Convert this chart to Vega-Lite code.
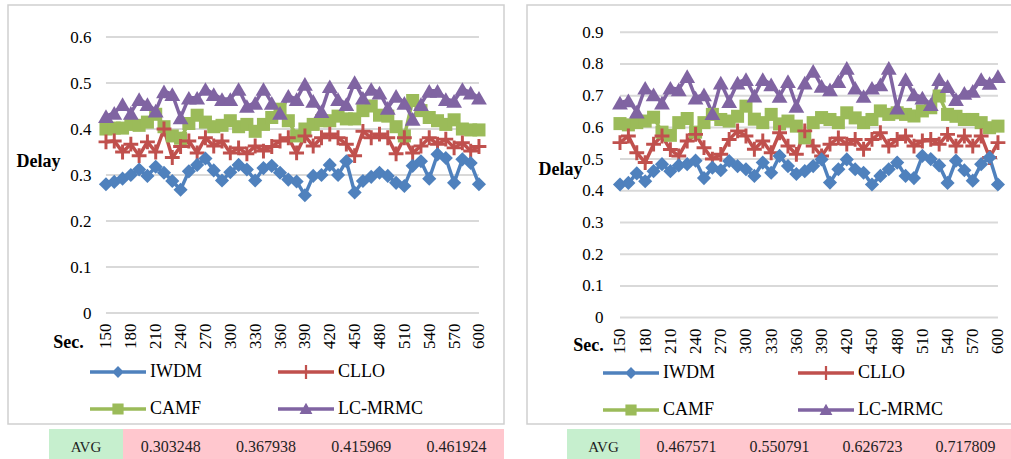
{
"$schema": "https://vega.github.io/schema/vega-lite/v6.json",
"background": "white",
"padding": {"left": 7, "top": 4, "right": 0, "bottom": 0},
"config": {"font": "Liberation Serif", "axis": {"labelOverlap": false}},
"datasets": {
"left": [
{"t":150,"IWDM":0.280,"CLLO":0.372,"CAMF":0.400,"LC-MRMC":0.428},
{"t":160,"IWDM":0.285,"CLLO":0.374,"CAMF":0.402,"LC-MRMC":0.435},
{"t":170,"IWDM":0.292,"CLLO":0.350,"CAMF":0.402,"LC-MRMC":0.454},
{"t":180,"IWDM":0.300,"CLLO":0.367,"CAMF":0.410,"LC-MRMC":0.435},
{"t":190,"IWDM":0.312,"CLLO":0.342,"CAMF":0.408,"LC-MRMC":0.465},
{"t":200,"IWDM":0.298,"CLLO":0.372,"CAMF":0.415,"LC-MRMC":0.454},
{"t":210,"IWDM":0.318,"CLLO":0.350,"CAMF":0.432,"LC-MRMC":0.440},
{"t":220,"IWDM":0.305,"CLLO":0.400,"CAMF":0.405,"LC-MRMC":0.482},
{"t":230,"IWDM":0.287,"CLLO":0.338,"CAMF":0.385,"LC-MRMC":0.476},
{"t":240,"IWDM":0.268,"CLLO":0.362,"CAMF":0.380,"LC-MRMC":0.425},
{"t":250,"IWDM":0.308,"CLLO":0.374,"CAMF":0.412,"LC-MRMC":0.468},
{"t":260,"IWDM":0.322,"CLLO":0.348,"CAMF":0.430,"LC-MRMC":0.468},
{"t":270,"IWDM":0.336,"CLLO":0.381,"CAMF":0.415,"LC-MRMC":0.487},
{"t":280,"IWDM":0.310,"CLLO":0.363,"CAMF":0.405,"LC-MRMC":0.476},
{"t":290,"IWDM":0.288,"CLLO":0.374,"CAMF":0.408,"LC-MRMC":0.465},
{"t":300,"IWDM":0.306,"CLLO":0.348,"CAMF":0.418,"LC-MRMC":0.465},
{"t":310,"IWDM":0.322,"CLLO":0.359,"CAMF":0.405,"LC-MRMC":0.487},
{"t":320,"IWDM":0.312,"CLLO":0.346,"CAMF":0.410,"LC-MRMC":0.450},
{"t":330,"IWDM":0.288,"CLLO":0.363,"CAMF":0.395,"LC-MRMC":0.457},
{"t":340,"IWDM":0.315,"CLLO":0.352,"CAMF":0.410,"LC-MRMC":0.487},
{"t":350,"IWDM":0.320,"CLLO":0.362,"CAMF":0.425,"LC-MRMC":0.457},
{"t":360,"IWDM":0.305,"CLLO":0.374,"CAMF":0.443,"LC-MRMC":0.435},
{"t":370,"IWDM":0.290,"CLLO":0.381,"CAMF":0.418,"LC-MRMC":0.472},
{"t":380,"IWDM":0.286,"CLLO":0.348,"CAMF":0.385,"LC-MRMC":0.465},
{"t":390,"IWDM":0.256,"CLLO":0.385,"CAMF":0.400,"LC-MRMC":0.498},
{"t":400,"IWDM":0.298,"CLLO":0.363,"CAMF":0.410,"LC-MRMC":0.461},
{"t":410,"IWDM":0.300,"CLLO":0.381,"CAMF":0.418,"LC-MRMC":0.439},
{"t":420,"IWDM":0.322,"CLLO":0.389,"CAMF":0.418,"LC-MRMC":0.493},
{"t":430,"IWDM":0.300,"CLLO":0.381,"CAMF":0.428,"LC-MRMC":0.465},
{"t":440,"IWDM":0.330,"CLLO":0.367,"CAMF":0.422,"LC-MRMC":0.454},
{"t":450,"IWDM":0.262,"CLLO":0.342,"CAMF":0.422,"LC-MRMC":0.502},
{"t":460,"IWDM":0.287,"CLLO":0.395,"CAMF":0.440,"LC-MRMC":0.468},
{"t":470,"IWDM":0.296,"CLLO":0.381,"CAMF":0.450,"LC-MRMC":0.487},
{"t":480,"IWDM":0.305,"CLLO":0.389,"CAMF":0.430,"LC-MRMC":0.479},
{"t":490,"IWDM":0.298,"CLLO":0.381,"CAMF":0.428,"LC-MRMC":0.446},
{"t":500,"IWDM":0.283,"CLLO":0.346,"CAMF":0.405,"LC-MRMC":0.472},
{"t":510,"IWDM":0.276,"CLLO":0.381,"CAMF":0.385,"LC-MRMC":0.457},
{"t":520,"IWDM":0.320,"CLLO":0.348,"CAMF":0.462,"LC-MRMC":0.422},
{"t":530,"IWDM":0.330,"CLLO":0.363,"CAMF":0.440,"LC-MRMC":0.454},
{"t":540,"IWDM":0.292,"CLLO":0.381,"CAMF":0.425,"LC-MRMC":0.483},
{"t":550,"IWDM":0.345,"CLLO":0.367,"CAMF":0.418,"LC-MRMC":0.483},
{"t":560,"IWDM":0.337,"CLLO":0.378,"CAMF":0.410,"LC-MRMC":0.465},
{"t":570,"IWDM":0.283,"CLLO":0.359,"CAMF":0.420,"LC-MRMC":0.461},
{"t":580,"IWDM":0.334,"CLLO":0.370,"CAMF":0.400,"LC-MRMC":0.487},
{"t":590,"IWDM":0.326,"CLLO":0.352,"CAMF":0.398,"LC-MRMC":0.479},
{"t":600,"IWDM":0.280,"CLLO":0.362,"CAMF":0.398,"LC-MRMC":0.468}
],
"right": [
{"t":150,"IWDM":0.420,"CLLO":0.552,"CAMF":0.612,"LC-MRMC":0.678},
{"t":160,"IWDM":0.425,"CLLO":0.573,"CAMF":0.608,"LC-MRMC":0.685},
{"t":170,"IWDM":0.455,"CLLO":0.520,"CAMF":0.615,"LC-MRMC":0.650},
{"t":180,"IWDM":0.430,"CLLO":0.489,"CAMF":0.620,"LC-MRMC":0.725},
{"t":190,"IWDM":0.462,"CLLO":0.547,"CAMF":0.632,"LC-MRMC":0.704},
{"t":200,"IWDM":0.484,"CLLO":0.573,"CAMF":0.585,"LC-MRMC":0.678},
{"t":210,"IWDM":0.462,"CLLO":0.530,"CAMF":0.575,"LC-MRMC":0.725},
{"t":220,"IWDM":0.480,"CLLO":0.510,"CAMF":0.615,"LC-MRMC":0.720},
{"t":230,"IWDM":0.484,"CLLO":0.557,"CAMF":0.628,"LC-MRMC":0.762},
{"t":240,"IWDM":0.495,"CLLO":0.578,"CAMF":0.585,"LC-MRMC":0.694},
{"t":250,"IWDM":0.440,"CLLO":0.536,"CAMF":0.615,"LC-MRMC":0.704},
{"t":260,"IWDM":0.473,"CLLO":0.500,"CAMF":0.641,"LC-MRMC":0.645},
{"t":270,"IWDM":0.465,"CLLO":0.515,"CAMF":0.625,"LC-MRMC":0.741},
{"t":280,"IWDM":0.494,"CLLO":0.562,"CAMF":0.620,"LC-MRMC":0.683},
{"t":290,"IWDM":0.478,"CLLO":0.589,"CAMF":0.635,"LC-MRMC":0.741},
{"t":300,"IWDM":0.468,"CLLO":0.573,"CAMF":0.667,"LC-MRMC":0.752},
{"t":310,"IWDM":0.447,"CLLO":0.531,"CAMF":0.626,"LC-MRMC":0.700},
{"t":320,"IWDM":0.489,"CLLO":0.557,"CAMF":0.615,"LC-MRMC":0.752},
{"t":330,"IWDM":0.457,"CLLO":0.520,"CAMF":0.641,"LC-MRMC":0.736},
{"t":340,"IWDM":0.510,"CLLO":0.583,"CAMF":0.611,"LC-MRMC":0.699},
{"t":350,"IWDM":0.478,"CLLO":0.541,"CAMF":0.620,"LC-MRMC":0.746},
{"t":360,"IWDM":0.453,"CLLO":0.515,"CAMF":0.604,"LC-MRMC":0.668},
{"t":370,"IWDM":0.462,"CLLO":0.589,"CAMF":0.567,"LC-MRMC":0.741},
{"t":380,"IWDM":0.478,"CLLO":0.541,"CAMF":0.615,"LC-MRMC":0.778},
{"t":390,"IWDM":0.499,"CLLO":0.510,"CAMF":0.631,"LC-MRMC":0.731},
{"t":400,"IWDM":0.426,"CLLO":0.547,"CAMF":0.625,"LC-MRMC":0.720},
{"t":410,"IWDM":0.468,"CLLO":0.567,"CAMF":0.615,"LC-MRMC":0.746},
{"t":420,"IWDM":0.499,"CLLO":0.547,"CAMF":0.646,"LC-MRMC":0.788},
{"t":430,"IWDM":0.468,"CLLO":0.562,"CAMF":0.630,"LC-MRMC":0.725},
{"t":440,"IWDM":0.457,"CLLO":0.531,"CAMF":0.615,"LC-MRMC":0.699},
{"t":450,"IWDM":0.420,"CLLO":0.562,"CAMF":0.625,"LC-MRMC":0.725},
{"t":460,"IWDM":0.447,"CLLO":0.583,"CAMF":0.652,"LC-MRMC":0.736},
{"t":470,"IWDM":0.468,"CLLO":0.541,"CAMF":0.641,"LC-MRMC":0.788},
{"t":480,"IWDM":0.489,"CLLO":0.562,"CAMF":0.646,"LC-MRMC":0.662},
{"t":490,"IWDM":0.447,"CLLO":0.573,"CAMF":0.641,"LC-MRMC":0.752},
{"t":500,"IWDM":0.440,"CLLO":0.541,"CAMF":0.636,"LC-MRMC":0.704},
{"t":510,"IWDM":0.510,"CLLO":0.557,"CAMF":0.652,"LC-MRMC":0.694},
{"t":520,"IWDM":0.500,"CLLO":0.562,"CAMF":0.662,"LC-MRMC":0.673},
{"t":530,"IWDM":0.480,"CLLO":0.547,"CAMF":0.699,"LC-MRMC":0.752},
{"t":540,"IWDM":0.425,"CLLO":0.578,"CAMF":0.641,"LC-MRMC":0.730},
{"t":550,"IWDM":0.495,"CLLO":0.541,"CAMF":0.635,"LC-MRMC":0.689},
{"t":560,"IWDM":0.465,"CLLO":0.573,"CAMF":0.625,"LC-MRMC":0.709},
{"t":570,"IWDM":0.432,"CLLO":0.541,"CAMF":0.625,"LC-MRMC":0.715},
{"t":580,"IWDM":0.484,"CLLO":0.573,"CAMF":0.615,"LC-MRMC":0.752},
{"t":590,"IWDM":0.505,"CLLO":0.505,"CAMF":0.599,"LC-MRMC":0.740},
{"t":600,"IWDM":0.420,"CLLO":0.552,"CAMF":0.604,"LC-MRMC":0.762}
]
},
"vconcat": [
{
"resolve": {"scale": {"color": "independent", "shape": "independent"}, "legend": {"color": "independent", "shape": "independent"}},
"hconcat": [
{
"width": 496, "height": 419,
"view": {"stroke": "#d0d0d0", "strokeWidth": 1.5},
"layer": [
{
"data": {"values": [{"g":0},{"g":0.1},{"g":0.2},{"g":0.3},{"g":0.4},{"g":0.5},{"g":0.6}]},
"mark": {"type": "rule", "color": "#d9d9d9", "strokeWidth": 2},
"encoding": {
"y": {"field": "g", "type": "quantitative", "scale": {"domain": [-0.2413, 0.6696], "nice": false, "zero": false},
"axis": {"values": [0,0.1,0.2,0.3,0.4,0.5,0.6], "tickCount": 20, "format": ".1~f", "offset": -87, "labelPadding": 4, "ticks": false, "domain": false, "grid": false, "labelFont": "Liberation Serif", "labelFontSize": 17, "labelColor": "#000", "title": "Delay", "titleFont": "Liberation Serif", "titleFontSize": 18, "titleFontWeight": "bold", "titleColor": "#000", "titleAngle": 0, "titleX": -57, "titleY": 156, "titleAlign": "center", "titleBaseline": "middle"}},
"x": {"datum": 150, "type": "quantitative", "scale": {"domain": [31.8, 630.2], "nice": false, "zero": false},
"axis": {"values": [150,180,210,240,270,300,330,360,390,420,450,480,510,540,570,600], "tickCount": 40, "format": "d", "offset": -111, "labelPadding": 10, "labelAngle": -90, "ticks": false, "domain": false, "grid": false, "labelFont": "Liberation Serif", "labelFontSize": 17, "labelColor": "#000", "labelOverlap": false, "labelFlush": false, "title": "Sec.", "titleFont": "Liberation Serif", "titleFontSize": 18, "titleFontWeight": "bold", "titleColor": "#000", "titleAngle": 0, "titleX": 60, "titleY": 29, "titleAlign": "center", "titleBaseline": "middle"}},
"x2": {"datum": 600}
}
},
{
"data": {"name": "left"},
"transform": [{"fold": ["IWDM", "CLLO", "CAMF", "LC-MRMC"], "as": ["series", "v"]}, {"filter": "false"}],
"mark": {"type": "point", "filled": true, "opacity": 1},
"encoding": {
"x": {"field": "t", "type": "quantitative"},
"y": {"field": "v", "type": "quantitative"},
"color": {"field": "series", "type": "nominal",
"scale": {"domain": ["IWDM", "CLLO", "CAMF", "LC-MRMC"], "range": ["#4F81BD", "#C0504D", "#9BBB59", "#8064A2"]},
"legend": {"orient": "none", "legendX": 82, "legendY": 339, "columns": 2, "direction": "horizontal", "title": null, "labelFont": "Liberation Serif", "labelFontSize": 18, "labelColor": "#000", "symbolSize": 3136, "symbolStrokeWidth": 0, "symbolOpacity": 1, "labelOffset": 4, "columnPadding": 76, "rowPadding": -1, "padding": 0}},
"shape": {"field": "series", "type": "nominal",
"scale": {"domain": ["IWDM", "CLLO", "CAMF", "LC-MRMC"], "range": ["M-1,-0.06H-0.15L0,-0.21L0.15,-0.06H1V0.06H0.15L0,0.21L-0.15,0.06H-1Z", "M-1,-0.06H-0.04V-0.25H0.04V-0.06H1V0.06H0.04V0.25H-0.04V0.06H-1Z", "M-1,-0.06H-0.2V-0.2H0.2V-0.06H1V0.06H0.2V0.2H-0.2V0.06H-1Z", "M-1,-0.06H-0.09L0,-0.22L0.09,-0.06H1V0.06H0.165L0.23,0.18H-0.23L-0.165,0.06H-1Z"]},
"legend": {"orient": "none", "legendX": 82, "legendY": 339, "columns": 2, "direction": "horizontal", "title": null, "labelFont": "Liberation Serif", "labelFontSize": 18, "labelColor": "#000", "symbolSize": 3136, "symbolStrokeWidth": 0, "symbolOpacity": 1, "labelOffset": 4, "columnPadding": 76, "rowPadding": -1, "padding": 0}}
}
},
{
"data": {"name": "left"},
"transform": [{"fold": ["IWDM", "CLLO", "CAMF", "LC-MRMC"], "as": ["series", "v"]}],
"mark": {"type": "line", "strokeWidth": 3.5},
"encoding": {
"x": {"field": "t", "type": "quantitative"},
"y": {"field": "v", "type": "quantitative"},
"color": {"field": "series", "type": "nominal", "legend": null}
}
},
{
"data": {"name": "left"},
"transform": [{"fold": ["IWDM", "CLLO", "CAMF", "LC-MRMC"], "as": ["series", "v"]}],
"mark": {"type": "point", "filled": true, "opacity": 1},
"encoding": {
"x": {"field": "t", "type": "quantitative"},
"y": {"field": "v", "type": "quantitative"},
"color": {"field": "series", "type": "nominal", "legend": null},
"shape": {"condition": [{"test": "datum.series === 'IWDM'", "value": "diamond"}, {"test": "datum.series === 'CLLO'", "value": "M-1,-0.2H-0.2V-1H0.2V-0.2H1V0.2H0.2V1H-0.2V0.2H-1Z"}, {"test": "datum.series === 'CAMF'", "value": "square"}], "value": "triangle-up"},
"size": {"condition": [{"test": "datum.series === 'IWDM'", "value": 200}, {"test": "datum.series === 'CLLO'", "value": 220}, {"test": "datum.series === 'CAMF'", "value": 170}], "value": 250},
"order": {"field": "series", "type": "nominal"}
}
}
]
},
{
"width": 486, "height": 419,
"view": {"stroke": "#d0d0d0", "strokeWidth": 1.5},
"layer": [
{
"data": {"values": [{"g":0},{"g":0.1},{"g":0.2},{"g":0.3},{"g":0.4},{"g":0.5},{"g":0.6},{"g":0.7},{"g":0.8},{"g":0.9}]},
"mark": {"type": "rule", "color": "#d9d9d9", "strokeWidth": 2},
"encoding": {
"y": {"field": "g", "type": "quantitative", "scale": {"domain": [-0.3356, 0.9861], "nice": false, "zero": false},
"axis": {"values": [0,0.1,0.2,0.3,0.4,0.5,0.6,0.7,0.8,0.9], "tickCount": 20, "format": ".1~f", "offset": -80, "labelPadding": 4, "ticks": false, "domain": false, "grid": false, "labelFont": "Liberation Serif", "labelFontSize": 17, "labelColor": "#000", "title": "Delay", "titleFont": "Liberation Serif", "titleFontSize": 18, "titleFontWeight": "bold", "titleColor": "#000", "titleAngle": 0, "titleX": -47, "titleY": 164, "titleAlign": "center", "titleBaseline": "middle"}},
"x": {"datum": 150, "type": "quantitative", "scale": {"domain": [39.3, 617.9], "nice": false, "zero": false},
"axis": {"values": [150,180,210,240,270,300,330,360,390,420,450,480,510,540,570,600], "tickCount": 40, "format": "d", "offset": -106, "labelPadding": 10, "labelAngle": -90, "ticks": false, "domain": false, "grid": false, "labelFont": "Liberation Serif", "labelFontSize": 17, "labelColor": "#000", "labelOverlap": false, "labelFlush": false, "title": "Sec.", "titleFont": "Liberation Serif", "titleFontSize": 18, "titleFontWeight": "bold", "titleColor": "#000", "titleAngle": 0, "titleX": 61, "titleY": 27, "titleAlign": "center", "titleBaseline": "middle"}},
"x2": {"datum": 600}
}
},
{
"data": {"name": "right"},
"transform": [{"fold": ["IWDM", "CLLO", "CAMF", "LC-MRMC"], "as": ["series", "v"]}, {"filter": "false"}],
"mark": {"type": "point", "filled": true, "opacity": 1},
"encoding": {
"x": {"field": "t", "type": "quantitative"},
"y": {"field": "v", "type": "quantitative"},
"color": {"field": "series", "type": "nominal",
"scale": {"domain": ["IWDM", "CLLO", "CAMF", "LC-MRMC"], "range": ["#4F81BD", "#C0504D", "#9BBB59", "#8064A2"]},
"legend": {"orient": "none", "legendX": 76, "legendY": 340, "columns": 2, "direction": "horizontal", "title": null, "labelFont": "Liberation Serif", "labelFontSize": 18, "labelColor": "#000", "symbolSize": 3136, "symbolStrokeWidth": 0, "symbolOpacity": 1, "labelOffset": 4, "columnPadding": 83, "rowPadding": -1, "padding": 0}},
"shape": {"field": "series", "type": "nominal",
"scale": {"domain": ["IWDM", "CLLO", "CAMF", "LC-MRMC"], "range": ["M-1,-0.06H-0.15L0,-0.21L0.15,-0.06H1V0.06H0.15L0,0.21L-0.15,0.06H-1Z", "M-1,-0.06H-0.04V-0.25H0.04V-0.06H1V0.06H0.04V0.25H-0.04V0.06H-1Z", "M-1,-0.06H-0.2V-0.2H0.2V-0.06H1V0.06H0.2V0.2H-0.2V0.06H-1Z", "M-1,-0.06H-0.09L0,-0.22L0.09,-0.06H1V0.06H0.165L0.23,0.18H-0.23L-0.165,0.06H-1Z"]},
"legend": {"orient": "none", "legendX": 76, "legendY": 340, "columns": 2, "direction": "horizontal", "title": null, "labelFont": "Liberation Serif", "labelFontSize": 18, "labelColor": "#000", "symbolSize": 3136, "symbolStrokeWidth": 0, "symbolOpacity": 1, "labelOffset": 4, "columnPadding": 83, "rowPadding": -1, "padding": 0}}
}
},
{
"data": {"name": "right"},
"transform": [{"fold": ["IWDM", "CLLO", "CAMF", "LC-MRMC"], "as": ["series", "v"]}],
"mark": {"type": "line", "strokeWidth": 3.5},
"encoding": {
"x": {"field": "t", "type": "quantitative"},
"y": {"field": "v", "type": "quantitative"},
"color": {"field": "series", "type": "nominal", "legend": null}
}
},
{
"data": {"name": "right"},
"transform": [{"fold": ["IWDM", "CLLO", "CAMF", "LC-MRMC"], "as": ["series", "v"]}],
"mark": {"type": "point", "filled": true, "opacity": 1},
"encoding": {
"x": {"field": "t", "type": "quantitative"},
"y": {"field": "v", "type": "quantitative"},
"color": {"field": "series", "type": "nominal", "legend": null},
"shape": {"condition": [{"test": "datum.series === 'IWDM'", "value": "diamond"}, {"test": "datum.series === 'CLLO'", "value": "M-1,-0.2H-0.2V-1H0.2V-0.2H1V0.2H0.2V1H-0.2V0.2H-1Z"}, {"test": "datum.series === 'CAMF'", "value": "square"}], "value": "triangle-up"},
"size": {"condition": [{"test": "datum.series === 'IWDM'", "value": 200}, {"test": "datum.series === 'CLLO'", "value": 220}, {"test": "datum.series === 'CAMF'", "value": 170}], "value": 250},
"order": {"field": "series", "type": "nominal"}
}
}
]
}
],
"spacing": 21
},
{
"hconcat": [
{
"width": 115, "height": 32,
"view": {"stroke": null},
"data": {"values": [{"k": "AVG"}]},
"layer": [
{"mark": {"type": "rect", "color": "#c6efce"},
"encoding": {"x": {"field": "k", "type": "nominal", "scale": {"type": "band", "paddingInner": 0, "paddingOuter": 0.277, "align": 1}, "axis": null}}},
{"mark": {"type": "text", "font": "Liberation Serif", "fontSize": 15, "color": "#1f1f1f", "dy": 2},
"encoding": {"x": {"field": "k", "type": "nominal", "axis": null}, "text": {"field": "k"}}}
]
},
{
"width": 381, "height": 32,
"view": {"stroke": null, "fill": "#ffc7ce"},
"data": {"values": [{"k": "IWDM", "a": "0.303248"}, {"k": "CLLO", "a": "0.367938"}, {"k": "CAMF", "a": "0.415969"}, {"k": "LC-MRMC", "a": "0.461924"}]},
"mark": {"type": "text", "font": "Liberation Serif", "fontSize": 16, "color": "#1f1f1f", "dy": 2},
"encoding": {"x": {"field": "k", "type": "nominal", "sort": null, "scale": {"type": "band", "paddingInner": 0, "paddingOuter": 0}, "axis": null}, "text": {"field": "a"}}
},
{
"width": 136, "height": 32,
"view": {"stroke": null},
"data": {"values": [{"k": "AVG"}]},
"layer": [
{"mark": {"type": "rect", "color": "#c6efce"},
"encoding": {"x": {"field": "k", "type": "nominal", "scale": {"type": "band", "paddingInner": 0, "paddingOuter": 0.4315, "align": 1}, "axis": null}}},
{"mark": {"type": "text", "font": "Liberation Serif", "fontSize": 15, "color": "#1f1f1f", "dy": 2},
"encoding": {"x": {"field": "k", "type": "nominal", "axis": null}, "text": {"field": "k"}}}
]
},
{
"width": 372, "height": 32,
"view": {"stroke": null, "fill": "#ffc7ce"},
"data": {"values": [{"k": "IWDM", "a": "0.467571"}, {"k": "CLLO", "a": "0.550791"}, {"k": "CAMF", "a": "0.626723"}, {"k": "LC-MRMC", "a": "0.717809"}]},
"mark": {"type": "text", "font": "Liberation Serif", "fontSize": 16, "color": "#1f1f1f", "dy": 2},
"encoding": {"x": {"field": "k", "type": "nominal", "sort": null, "scale": {"type": "band", "paddingInner": 0, "paddingOuter": 0}, "axis": null}, "text": {"field": "a"}}
}
],
"spacing": 0
}
],
"spacing": 4
}
